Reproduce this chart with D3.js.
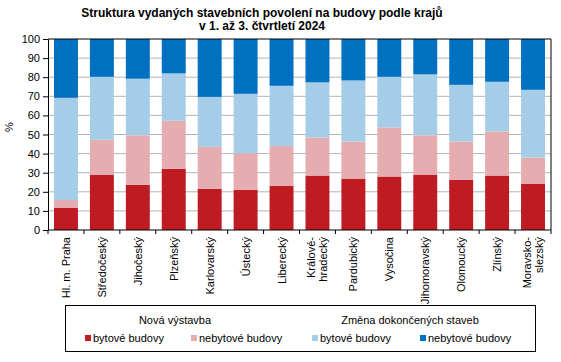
<!DOCTYPE html>
<html>
<head>
<meta charset="utf-8">
<title>Struktura vydaných stavebních povolení</title>
<script src="https://cdn.jsdelivr.net/npm/d3@7"></script>
<style>
    body { margin: 0; background: #fff; }
    svg { font-family: "Liberation Sans", Arial, sans-serif; }
    .axis text { font-size: 11px; fill: #000; }
    .axis path, .axis line { stroke: #000; }
    .grid line { stroke: #b4b4b4; }
    .legend text { font-size: 11px; }
</style>
</head>
<body>
<div id="chart"></div>
<script>
    // regions, values in % (stacked, sum 100)
    var regions = ['Hl. m. Praha', 'Středočeský', 'Jihočeský', 'Plzeňský', 'Karlovarský', 'Ústecký',
        'Liberecký', 'Králové-|hradecký', 'Pardubický', 'Vysočina', 'Jihomoravský', 'Olomoucký',
        'Zlínský', 'Moravsko-|slezský'];
    var novaByt    = [11.7, 28.8, 23.6, 32.0, 21.5, 21.0, 23.2, 28.5, 26.9, 28.0, 29.0, 26.2, 28.5, 24.3];
    var novaNebyt  = [4.0, 18.4, 26.0, 25.2, 22.0, 19.2, 20.8, 19.9, 19.4, 25.7, 20.6, 20.1, 23.1, 13.6];
    var zmenaByt   = [53.5, 33.0, 29.6, 24.8, 26.2, 31.1, 31.5, 28.9, 32.0, 26.5, 31.9, 29.7, 26.0, 35.5];
    var zmenaNebyt = [30.8, 19.8, 20.8, 18.0, 30.3, 28.7, 24.5, 22.7, 21.7, 19.8, 18.5, 24.0, 22.4, 26.6];
    var yTicks = [0, 10, 20, 30, 40, 50, 60, 70, 80, 90, 100];

    var seriesKeys = ['novaByt', 'novaNebyt', 'zmenaByt', 'zmenaNebyt'];
    var seriesNames = ['bytové budovy', 'nebytové budovy', 'bytové budovy', 'nebytové budovy'];
    var colors = ['#be1b23', '#e6adb1', '#a6cde7', '#0070c0'];

    var width = 561, height = 362;
    var plotLeft = 48, plotRight = 551, plotTop = 39, plotBottom = 230;

    var rows = regions.map(function(r, i) {
        return { region: r, novaByt: novaByt[i], novaNebyt: novaNebyt[i],
                 zmenaByt: zmenaByt[i], zmenaNebyt: zmenaNebyt[i] };
    });
    var stacked = d3.stack().keys(seriesKeys)(rows);

    var svg = d3.select('#chart').append('svg')
        .attr('width', width)
        .attr('height', height);

    var xScale = d3.scaleBand().domain(regions).range([plotLeft, plotRight]).paddingInner(1/3).paddingOuter(1/6);
    var yScale = d3.scaleLinear().domain([0, 100]).range([plotBottom, plotTop]);

    // gridlines
    svg.append('g').attr('class', 'grid')
        .selectAll('line')
        .data(yTicks.filter(function(d){ return d > 0 && d < 100; }))
        .enter().append('line')
        .attr('x1', plotLeft).attr('x2', plotRight)
        .attr('y1', function(d){ return yScale(d); })
        .attr('y2', function(d){ return yScale(d); });

    // bars
    svg.selectAll('.series')
        .data(stacked)
        .enter().append('g')
        .attr('class', 'series')
        .attr('fill', function(d, i){ return colors[i]; })
        .selectAll('rect')
        .data(function(d){ return d; })
        .enter().append('rect')
        .attr('x', function(d){ return xScale(d.data.region); })
        .attr('width', xScale.bandwidth())
        .attr('y', function(d){ return yScale(d[1]); })
        .attr('height', function(d){ return yScale(d[0]) - yScale(d[1]); });

    // frame: top and right
    svg.append('path')
        .attr('d', 'M' + plotLeft + ',' + yScale(100) + 'H' + plotRight + 'V' + yScale(0))
        .attr('fill', 'none')
        .attr('stroke', '#000');

    // y axis
    var yAxis = d3.axisLeft(yScale).tickValues(yTicks).tickSize(5).tickPadding(3);
    svg.append('g').attr('class', 'axis')
        .attr('transform', 'translate(' + plotLeft + ',0)')
        .call(yAxis);

    // x axis with ticks between categories
    var xAxisG = svg.append('g').attr('class', 'axis')
        .attr('transform', 'translate(0,' + plotBottom + ')');
    xAxisG.append('line').attr('x1', plotLeft).attr('x2', plotRight).attr('y1', 0).attr('y2', 0);
    var step = xScale.step();
    xAxisG.selectAll('.tk')
        .data(d3.range(regions.length + 1))
        .enter().append('line')
        .attr('class', 'tk')
        .attr('x1', function(i){ return plotLeft + i * step; })
        .attr('x2', function(i){ return plotLeft + i * step; })
        .attr('y1', 0).attr('y2', 4);

    xAxisG.selectAll('.lbl')
        .data(regions)
        .enter().append('text')
        .attr('class', 'lbl')
        .attr('text-anchor', 'end')
        .attr('transform', function(d){
            var lines = d.split('|').length;
            var cx = xScale(d) + xScale.bandwidth() / 2;
            return 'translate(' + (cx + 4 - (lines - 1) * 6) + ',7) rotate(-90)';
        })
        .each(function(d){
            var parts = d.split('|');
            var t = d3.select(this);
            parts.forEach(function(p, i){
                t.append('tspan').attr('x', 0).attr('dy', i === 0 ? 0 : 12).text(p);
            });
        });

    // y label
    svg.append('text')
        .attr('transform', 'translate(13,127) rotate(-90)')
        .attr('text-anchor', 'middle')
        .style('font-size', '11px')
        .text('%');

    // title
    var title = svg.append('text')
        .attr('text-anchor', 'middle')
        .style('font-size', '12px')
        .style('font-weight', 'bold');
    title.append('tspan').attr('x', 262).attr('y', 17).text('Struktura vydaných stavebních povolení na budovy podle krajů');
    title.append('tspan').attr('x', 262).attr('y', 30).text('v 1. až 3. čtvrtletí 2024');

    // legend
    var legend = svg.append('g').attr('class', 'legend');
    legend.append('rect')
        .attr('x', 65.5).attr('y', 305.5).attr('width', 470).attr('height', 46)
        .attr('fill', '#fff').attr('stroke', '#000');
    legend.append('text').attr('x', 175).attr('y', 324).attr('text-anchor', 'middle').text('Nová výstavba');
    legend.append('text').attr('x', 410).attr('y', 324).attr('text-anchor', 'middle').text('Změna dokončených staveb');
    var itemX = [85, 191, 312, 420];
    seriesNames.forEach(function(n, i){
        legend.append('rect')
            .attr('x', itemX[i]).attr('y', 335).attr('width', 6).attr('height', 6)
            .attr('fill', colors[i]);
        legend.append('text')
            .attr('x', itemX[i] + 8).attr('y', 342)
            .text(n);
    });
</script>
</body>
</html>
